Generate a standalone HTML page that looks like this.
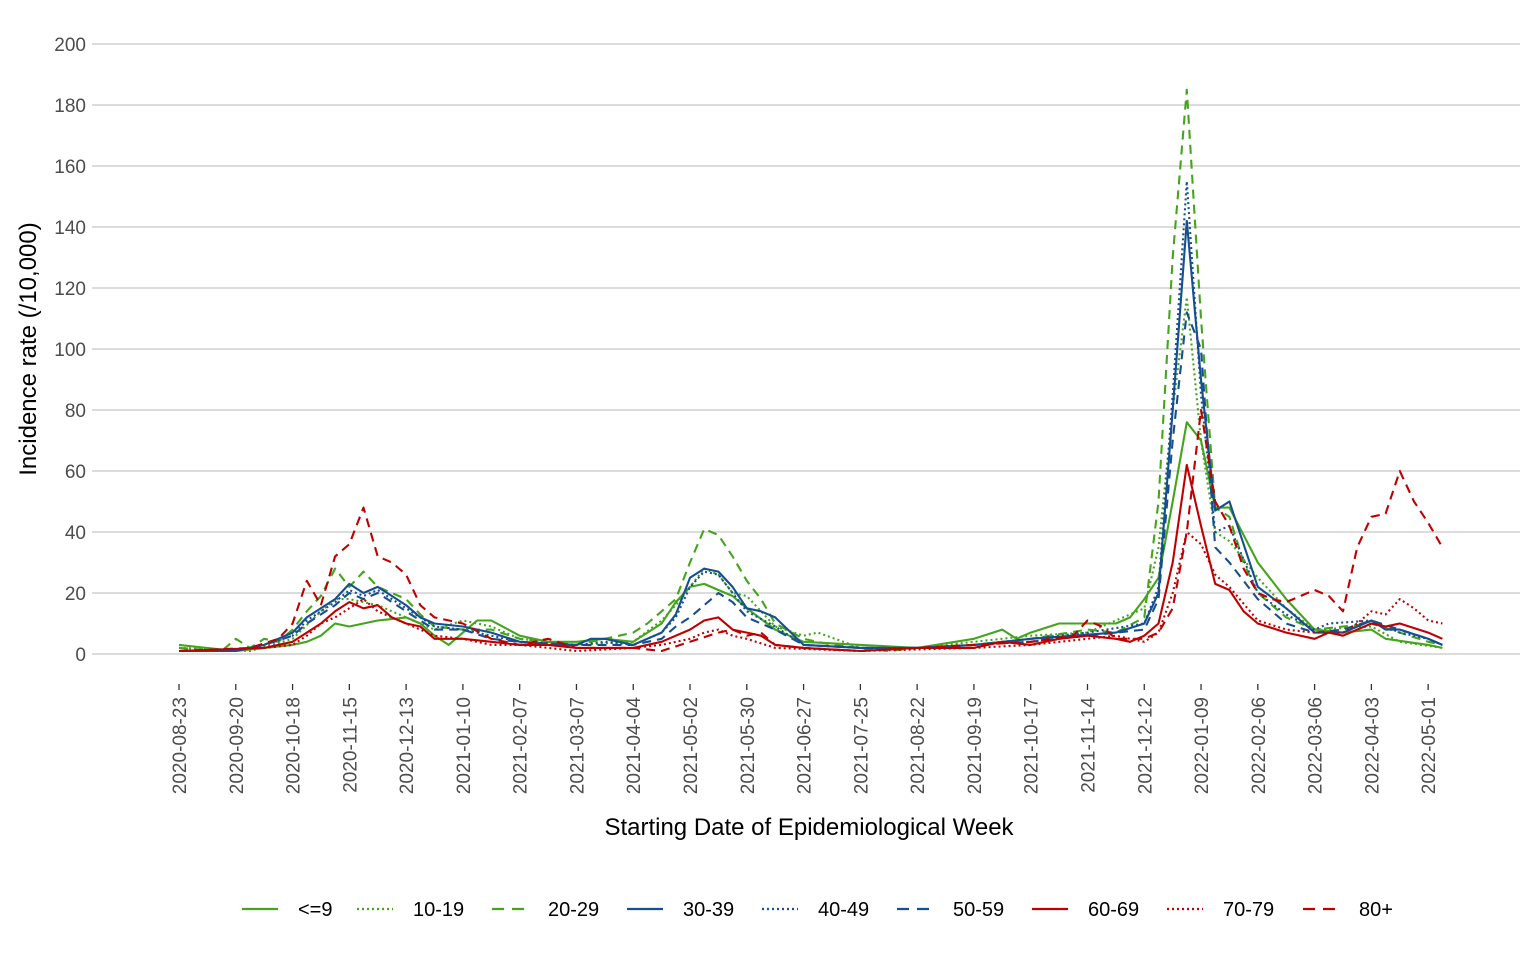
<!DOCTYPE html>
<html><head><meta charset="utf-8"><style>
html,body{margin:0;padding:0;background:#fff;}
svg{display:block;font-family:"Liberation Sans",Arial,sans-serif;}
</style></head><body>
<svg id="c" width="1536" height="960" xmlns="http://www.w3.org/2000/svg"></svg>
<script>
const svg=document.getElementById('c');
const NS='http://www.w3.org/2000/svg';
function el(t,a,txt){const e=document.createElementNS(NS,t);for(const k in a)e.setAttribute(k,a[k]);if(txt!==undefined)e.textContent=txt;svg.appendChild(e);return e;}
const X=w=>179+w*14.195, Y=v=>654-v*3.05;
for(let v=0;v<=200;v+=20){el('line',{x1:92,x2:1520,y1:Y(v),y2:Y(v),stroke:'#d0d0d0','stroke-width':1.4});
el('text',{x:86,y:Y(v)+7,'text-anchor':'end','font-size':19,fill:'#4d4d4d'},String(v));}
const ticks=['2020-08-23','2020-09-20','2020-10-18','2020-11-15','2020-12-13','2021-01-10','2021-02-07','2021-03-07','2021-04-04','2021-05-02','2021-05-30','2021-06-27','2021-07-25','2021-08-22','2021-09-19','2021-10-17','2021-11-14','2021-12-12','2022-01-09','2022-02-06','2022-03-06','2022-04-03','2022-05-01'];
ticks.forEach((t,i)=>{const x=X(i*4);el('line',{x1:x,x2:x,y1:684,y2:690,stroke:'#333','stroke-width':1.3});
el('text',{x:0,y:0,transform:`translate(${x+7},697) rotate(-90)`,'text-anchor':'end','font-size':19,fill:'#4d4d4d'},t);});
el('text',{x:809,y:835,'text-anchor':'middle','font-size':24,fill:'#000'},'Starting Date of Epidemiological Week');
el('text',{x:0,y:0,transform:'translate(36,349) rotate(-90)','text-anchor':'middle','font-size':24,fill:'#000'},'Incidence rate (/10,000)');
const G='#44a51c',B='#164f8f',R='#c00000';
const S={solid:'',dot:'2,3',dash:'9,6'};
const series=[
['<=9',G,'solid',[[0,3],[4,1],[6,2],[8,3],[9,4],[10,6],[11,10],[12,9],[14,11],[16,12],[17,10],[18,6],[19,3],[20,7],[21,11],[22,11],[24,6],[26,4],[28,4],[30,5],[32,4],[34,10],[35,17],[36,22],[37,23],[38,21],[39,19],[40,15],[42,8],[44,4],[48,3],[52,2],[56,5],[58,8],[59,5],[60,7],[62,10],[64,10],[66,10],[67,12],[68,18],[69,25],[70,50],[71,76],[72,70],[73,48],[74,48],[76,30],[78,18],[80,8],[82,7],[84,8],[85,5],[88,3],[89,2]]],
['10-19',G,'dot',[[0,2],[5,1],[8,5],[10,14],[11,18],[12,18],[13,17],[14,16],[16,12],[18,8],[20,11],[22,9],[24,5],[28,3],[32,4],[34,11],[35,16],[36,22],[37,28],[38,26],[39,20],[40,19],[42,9],[44,6],[45,7],[48,2],[52,2],[56,4],[60,6],[64,7],[68,15],[69,35],[70,80],[71,117],[72,70],[73,40],[74,37],[76,25],[78,15],[80,8],[84,9],[86,4],[89,2]]],
['20-29',G,'dash',[[0,2],[3,1],[4,5],[5,2],[6,5],[7,4],[8,8],[9,14],[10,19],[11,28],[12,22],[13,27],[14,22],[15,20],[16,18],[17,13],[18,9],[20,8],[22,8],[24,5],[26,4],[28,3],[30,5],[32,7],[33,10],[34,14],[35,18],[36,30],[37,41],[38,39],[39,32],[40,24],[41,18],[42,10],[44,5],[46,3],[48,2],[50,1],[52,2],[56,3],[60,5],[64,8],[66,7],[68,12],[69,50],[70,130],[71,185],[72,110],[73,48],[74,45],[75,30],[76,20],[78,12],[80,8],[84,10],[86,7],[88,4],[89,3]]],
['30-39',B,'solid',[[0,1],[4,1],[6,3],[8,7],[9,12],[10,15],[11,18],[12,23],[13,20],[14,22],[15,19],[16,16],[17,12],[18,10],[20,9],[22,7],[24,4],[26,3],[28,3],[29,5],[30,5],[32,3],[34,7],[35,13],[36,25],[37,28],[38,27],[39,22],[40,15],[41,14],[42,12],[44,3],[48,2],[52,2],[56,3],[60,5],[63,6],[66,7],[68,10],[69,20],[70,80],[71,142],[72,90],[73,47],[74,50],[76,22],[78,15],[80,7],[82,7],[84,11],[85,8],[86,8],[88,5],[89,3]]],
['40-49',B,'dot',[[0,1],[4,1],[6,3],[8,6],[9,11],[10,14],[11,17],[12,21],[13,19],[14,21],[15,18],[16,15],[17,12],[18,9],[20,8],[22,6],[24,4],[28,3],[30,4],[32,3],[34,7],[35,12],[36,22],[37,27],[38,26],[39,20],[40,14],[42,9],[44,3],[48,2],[52,2],[56,3],[60,5],[64,7],[68,10],[69,22],[70,85],[71,155],[72,85],[73,40],[74,42],[76,20],[78,13],[80,8],[81,10],[84,11],[86,7],[88,5],[89,3]]],
['50-59',B,'dash',[[0,1],[4,1],[6,3],[8,6],[9,10],[10,13],[11,16],[12,20],[13,18],[14,20],[15,17],[16,14],[17,11],[18,8],[20,8],[22,5],[24,4],[28,3],[32,3],[34,5],[35,9],[36,12],[37,16],[38,20],[39,17],[40,12],[42,8],[44,3],[48,2],[52,2],[56,3],[60,4],[64,6],[68,8],[69,18],[70,70],[71,112],[72,100],[73,35],[74,30],[76,18],[78,10],[80,7],[82,8],[84,11],[86,8],[88,5],[89,3]]],
['60-69',R,'solid',[[0,1],[6,2],[8,4],[9,7],[10,10],[11,14],[12,17],[13,15],[14,16],[15,12],[16,10],[17,9],[18,5],[20,5],[22,4],[24,3],[26,3],[28,2],[32,2],[34,4],[35,6],[36,8],[37,11],[38,12],[39,8],[40,7],[41,6],[42,3],[44,2],[48,1],[52,2],[56,2],[58,4],[60,3],[62,5],[64,6],[66,5],[67,4],[68,6],[69,10],[70,30],[71,62],[72,42],[73,23],[74,21],[75,14],[76,10],[78,7],[80,5],[81,7],[82,6],[84,10],[85,9],[86,10],[88,7],[89,5]]],
['70-79',R,'dot',[[0,1],[6,2],[8,3],[9,6],[10,10],[11,12],[12,15],[13,18],[14,14],[15,12],[16,10],[18,6],[20,5],[22,3],[24,3],[26,2],[28,1],[32,2],[34,3],[36,5],[37,7],[38,8],[39,6],[40,5],[42,2],[48,1],[56,2],[60,3],[64,5],[66,6],[68,4],[69,7],[70,20],[71,40],[72,36],[73,26],[74,22],[76,11],[78,8],[80,7],[82,7],[83,10],[84,14],[85,13],[86,18],[87,15],[88,11],[89,10]]],
['80+',R,'dash',[[0,1],[5,2],[7,5],[8,10],[9,24],[10,16],[11,32],[12,36],[13,48],[14,32],[15,30],[16,26],[17,16],[18,12],[20,10],[22,5],[24,3],[26,5],[28,2],[30,2],[32,2],[34,1],[36,4],[38,7],[39,8],[40,6],[41,7],[42,3],[44,2],[48,1],[52,2],[56,3],[60,4],[63,6],[64,11],[65,9],[66,5],[68,5],[69,7],[70,15],[71,40],[72,80],[73,50],[74,42],[75,28],[76,20],[77,18],[78,17],[80,21],[81,19],[82,14],[83,35],[84,45],[85,46],[86,60],[87,50],[88,43],[89,35]]]
];
series.forEach(s=>{const d='M'+s[3].map(p=>X(p[0]).toFixed(1)+','+Y(p[1]).toFixed(1)).join(' L');
const a={d:d,fill:'none',stroke:s[1],'stroke-width':2.1,'stroke-linejoin':'round'};if(S[s[2]])a['stroke-dasharray']=S[s[2]];el('path',a);});
const lx=[242,357,492,627,762,897,1032,1167,1303];
series.forEach((s,i)=>{const a={x1:lx[i],x2:lx[i]+36,y1:909,y2:909,stroke:s[1],'stroke-width':2.3};if(S[s[2]])a['stroke-dasharray']=S[s[2]]==='9,6'?'12,8':'2,3';el('line',a);
el('text',{x:lx[i]+56,y:916,'font-size':20,fill:'#000'},s[0]);});
</script>
</body></html>
